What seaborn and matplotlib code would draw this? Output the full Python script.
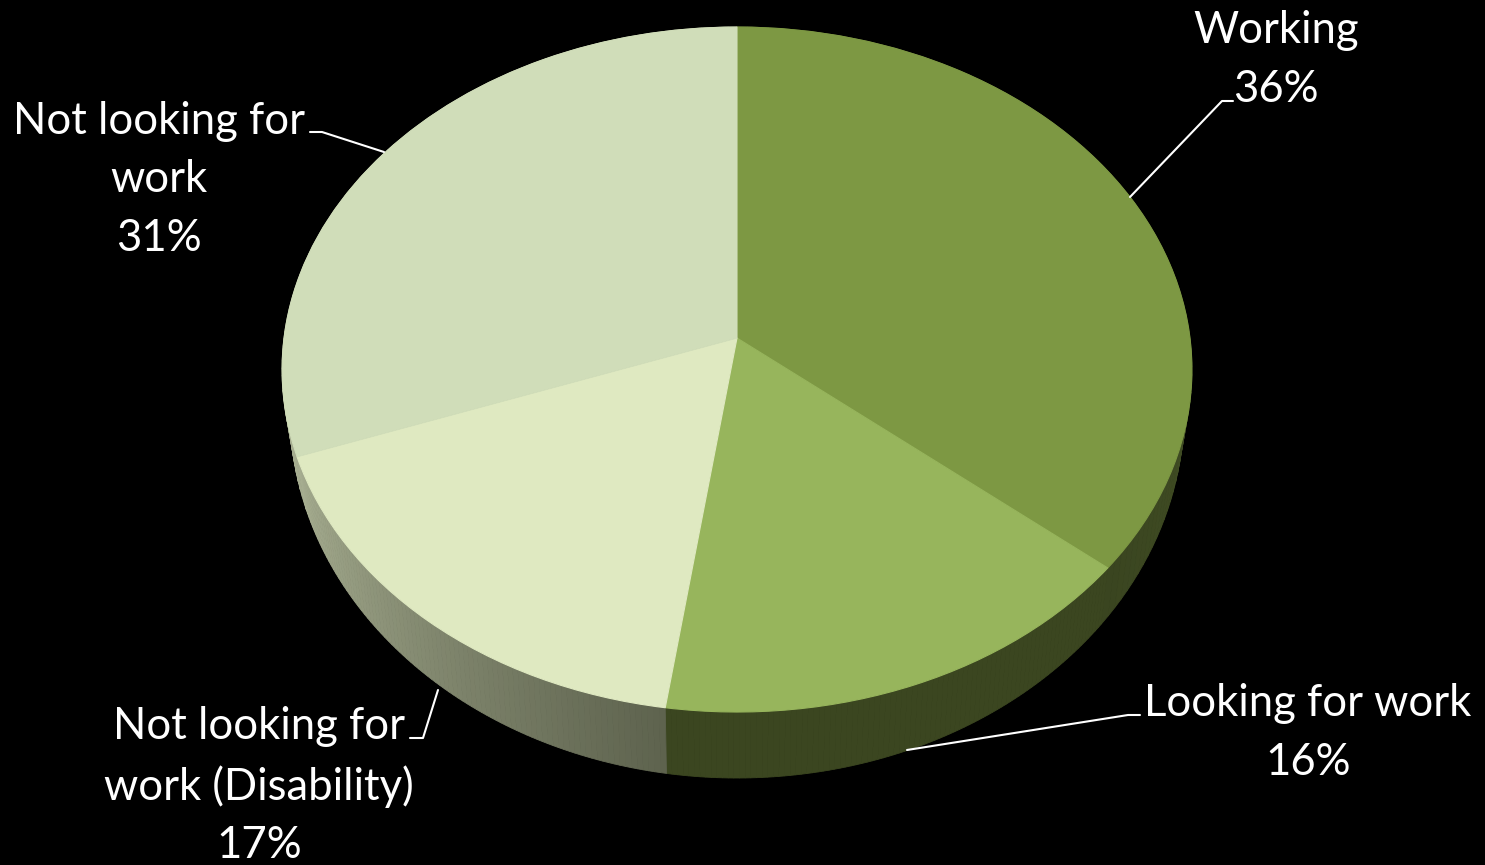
import numpy as np
import matplotlib
matplotlib.use("Agg")
import matplotlib.pyplot as plt
from matplotlib.colors import to_rgb
from matplotlib.transforms import Transform
import seaborn as sns

# slice sizes as drawn (clockwise from 12 o'clock); printed percents are in labels
slice_names = ["Working", "Looking for work", "Not looking for work (Disability)", "Not looking for work"]
slice_sizes = [36.0, 16.3, 17.2, 30.5]
top_colors = ["#7d9843", "#97b55c", "#dfe9c1", "#d0ddb9"]
# rim colour at start and end of each slice
rim_start = ["#586830", "#3b4620", "#5e634e", "#a6ad90"]
rim_end = ["#3a4520", "#3b4620", "#a6ad90", "#a6ad90"]

label_texts = ["Working\n36%", "Looking for work\n16%", "Not looking for\nwork (Disability)\n17%", "Not looking for\nwork\n31%"]
label_xy = [(1276, 60), (1308, 733), (259, 786), (159, 180)]
leaders = [
    [(1130, 197), (1222, 101), (1233, 101)],
    [(907, 750), (1128, 715), (1140, 715)],
    [(438, 690), (423, 738), (410, 738)],
    [(384, 152), (322, 132), (310, 132)],
]

# look of the tilted disc, in pixels
APEX_X, APEX_Y = 737, 338
RX, RY, TILT = 453, 339.6, 0.092
TOP_CY, LOW_CY = 369.5, 412
LOW_SX, LOW_SY = 447 / 455, 366 / 342.5


def project(xy):
    x, y = xy[:, 0], xy[:, 1]
    w = 1 + TILT * y
    return np.column_stack([APEX_X + RX * x / w, APEX_Y - RY * y / w])


class Tilted(Transform):
    input_dims = output_dims = 2
    is_affine = False

    def transform_non_affine(self, values):
        return project(np.asarray(values, dtype=float))


sns.set_theme(style="white", rc={"figure.facecolor": "black", "axes.facecolor": "black"})
plt.rcParams["font.family"] = ["Lato", "DejaVu Sans"]

fig, ax = plt.subplots(figsize=(14.85, 8.65), dpi=100)
fig.subplots_adjust(0, 0, 1, 1)

wedges, _ = ax.pie(slice_sizes, colors=sns.color_palette(top_colors), startangle=90,
                   counterclock=False, wedgeprops={"linewidth": 0})
ax.set_aspect("auto")
ax.set_xlim(0, 1485)
ax.set_ylim(865, 0)
ax.axis("off")

tilted = Tilted() + ax.transData
for w in wedges:
    w.set_transform(tilted)
    w.set_zorder(3)
    w.set_edgecolor(w.get_facecolor())
    w.set_linewidth(0.8)

# rim of the disc, thin strips between the top edge and the lower ellipse
edges = np.cumsum([0] + slice_sizes)
for i in range(len(slice_sizes)):
    angles = np.linspace(edges[i], edges[i + 1], 90) / 100 * 2 * np.pi
    top = project(np.column_stack([np.sin(angles), np.cos(angles)]))
    low_x = APEX_X + (top[:, 0] - APEX_X) * LOW_SX
    low_y = LOW_CY + (top[:, 1] - TOP_CY) * LOW_SY
    c0, c1 = np.array(to_rgb(rim_start[i])), np.array(to_rgb(rim_end[i]))
    for j in range(len(angles) - 1):
        col = c0 + (c1 - c0) * j / (len(angles) - 2)
        xs = [top[j, 0], top[j + 1, 0], low_x[j + 1], low_x[j]]
        ys = [top[j, 1], top[j + 1, 1], low_y[j + 1], low_y[j]]
        ax.fill(xs, ys, color=col, lw=0.6, zorder=2)

for pts in leaders:
    xs, ys = zip(*pts)
    ax.plot(xs, ys, color="white", lw=1.5, zorder=4, solid_capstyle="round")

for txt, (x, y) in zip(label_texts, label_xy):
    ax.text(x, y, txt, color="white", fontsize=31.4, ha="center", va="center",
            linespacing=1.53, zorder=5, clip_on=False)

fig.savefig("out.png", dpi=100, facecolor="black")
